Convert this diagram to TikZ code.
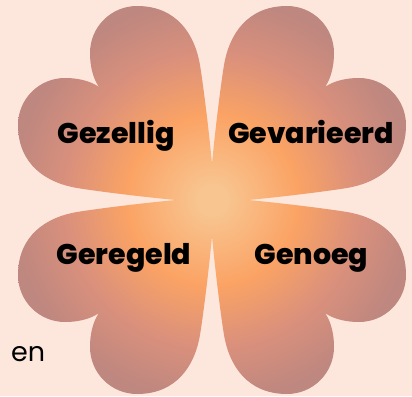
\documentclass[tikz,border=0pt]{standalone}
\usepackage{fontspec}
\setmainfont{Poppins}
\newfontfamily\heavyfont{Poppins ExtraBold}
\definecolor{bgc}{HTML}{FDE7DC}
\definecolor{cC}{HTML}{F8C48F}
\definecolor{cO}{HTML}{FBA365}
\definecolor{cP}{HTML}{D9907C}
\definecolor{cM}{HTML}{BE877F}
\pgfdeclareradialshading{clover}{\pgfpointorigin}{color(0bp)=(cC); color(2bp)=(cC); color(11bp)=(cO); color(19bp)=(cP); color(26bp)=(cM); color(50bp)=(cM)}
\newcommand\petal[2]{(#1*3,#2*3) .. controls (0,{#2*-50}) and ({#1*-9.5},{#2*-120}) .. ({#1*-12},{#2*-135})
 .. controls ({#1*-17},{#2*-165}) and ({#1*-35},{#2*-194}) .. ({#1*-75},{#2*-194})
 .. controls ({#1*-101},{#2*-194}) and ({#1*-122},{#2*-173}) .. ({#1*-122},{#2*-147})
 .. controls ({#1*-122},{#2*-131}) and ({#1*-117.5},{#2*-113}) .. ({#1*-104},{#2*-104})
 .. controls ({#1*-113},{#2*-117.5}) and ({#1*-131},{#2*-122}) .. ({#1*-147},{#2*-122})
 .. controls ({#1*-173},{#2*-122}) and ({#1*-194},{#2*-101}) .. ({#1*-194},{#2*-75})
 .. controls ({#1*-194},{#2*-35}) and ({#1*-165},{#2*-17}) .. ({#1*-135},{#2*-12})
 .. controls ({#1*-120},{#2*-9.5}) and ({#1*-50},0) .. (#1*3,#2*3) -- cycle}
\tikzset{lbl/.style={font=\heavyfont\fontsize{28.5}{29}\selectfont, text=black, inner sep=0pt, anchor=base},
 small/.style={font=\fontsize{27}{27}\selectfont, text=black, inner sep=0pt, anchor=base west}}
\begin{document}
\begin{tikzpicture}[x=1pt,y=-1pt]
\fill[bgc] (0,0) rectangle (412,396);
\useasboundingbox (0,0) rectangle (412,396);
\foreach \sx/\sy in {1/1,-1/1,1/-1,-1/-1}{
  \begin{scope}
    \clip[shift={(212,200)}] \petal{\sx}{\sy};
    \shade[shading=clover] (18,6) rectangle (406,394);
  \end{scope}
}
\node[lbl] (gez) at (116,143) {Gezellig};
\node[lbl] (gev) at (311,143) {Gevarieerd};
\node[lbl] (ger) at (124,264.3) {Geregeld};
\node[lbl] (gen) at (311.5,264.3) {Genoeg};
\node[small] (en) at (11,361.7) {en};
\end{tikzpicture}
\end{document}
